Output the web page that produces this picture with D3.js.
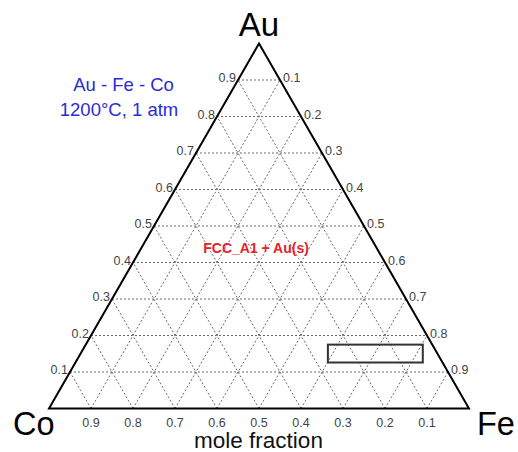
<!DOCTYPE html>
<html>
<head>
<meta charset="utf-8">
<script src="https://cdn.jsdelivr.net/npm/d3@7"></script>
<style>
  html, body { margin: 0; padding: 0; background: #fff; }
  svg { display: block; font-family: "Liberation Sans", Arial, sans-serif; }
</style>
</head>
<body>
<svg id="chart" width="518" height="452"></svg>
<script>
// ---- data ----
const components = ["Au", "Co", "Fe"];           // top, left, right vertices
const gridValues = [0.1, 0.2, 0.3, 0.4, 0.5, 0.6, 0.7, 0.8, 0.9];
const leftTickLabels = ["0.1", "0.2", "0.3", "0.4", "0.5", "0.6", "0.7", "0.8", "0.9"];   // Au fraction
const rightTickLabels = ["0.9", "0.8", "0.7", "0.6", "0.5", "0.4", "0.3", "0.2", "0.1"];  // Fe fraction (by Au level)
const bottomTickLabels = ["0.9", "0.8", "0.7", "0.6", "0.5", "0.4", "0.3", "0.2", "0.1"]; // Co fraction (by Fe level)
const titleLines = ["Au - Fe - Co", "1200\u00B0C, 1 atm"];
const phaseLabel = "FCC_A1 + Au(s)";
const phaseLabelPos = { Au: 0.426, Fe: 0.28 };   // composition where phase label sits
const boxFe = [0.664, 0.890]; // box extent (cartesian fraction along base)
const boxAu = [0.126, 0.175]; // box extent in Au fraction
const axisTitle = "mole fraction";

// ---- scales ----
const svg = d3.select("#chart");
const xs = d3.scaleLinear().domain([0, 1]).range([49, 469]);
const ys = d3.scaleLinear().domain([0, 1]).range([408.5, 43.5]);
const P = (au, fe) => [xs(fe + au / 2), ys(au)];

// ---- grid ----
const gridLines = [];
gridValues.forEach(t => {
  gridLines.push([P(t, 0), P(t, 1 - t)]);       // constant Au
  gridLines.push([P(0, t), P(1 - t, t)]);       // constant Fe
  gridLines.push([P(0, 1 - t), P(1 - t, 0)]);   // constant Co
});
svg.append("g").selectAll("line").data(gridLines).join("line")
  .attr("x1", d => d[0][0]).attr("y1", d => d[0][1])
  .attr("x2", d => d[1][0]).attr("y2", d => d[1][1])
  .attr("stroke", "#6a6a6a").attr("stroke-width", 1)
  .attr("stroke-dasharray", "2,2");

// ---- triangle ----
const tri = [P(1, 0), P(0, 0), P(0, 1)];
svg.append("path")
  .attr("d", d3.line()(tri) + "Z")
  .attr("fill", "none").attr("stroke", "#000").attr("stroke-width", 2)
  .attr("stroke-linejoin", "miter");

// ---- tick labels ----
const tickColor = "#444";
svg.append("g").selectAll("text").data(gridValues).join("text")
  .attr("x", t => P(t, 0)[0] - 2)
  .attr("y", t => P(t, 0)[1] + 2)
  .attr("text-anchor", "end").attr("font-size", 12.5).attr("fill", tickColor)
  .text((t, i) => leftTickLabels[i]);

svg.append("g").selectAll("text").data(gridValues).join("text")
  .attr("x", t => P(t, 1 - t)[0] + 3)
  .attr("y", t => P(t, 1 - t)[1] + 2)
  .attr("text-anchor", "start").attr("font-size", 12.5).attr("fill", tickColor)
  .text((t, i) => rightTickLabels[i]);

svg.append("g").selectAll("text").data(gridValues).join("text")
  .attr("x", t => P(0, t)[0])
  .attr("y", 426.5)
  .attr("text-anchor", "middle").attr("font-size", 12.5).attr("fill", tickColor)
  .text((t, i) => bottomTickLabels[i]);

// ---- vertex labels ----
svg.append("text").attr("x", P(1, 0)[0]).attr("y", 36)
  .attr("text-anchor", "middle").attr("font-size", 33).attr("fill", "#000").text(components[0]);
svg.append("text").attr("x", 13).attr("y", 435)
  .attr("text-anchor", "start").attr("font-size", 32.5).attr("fill", "#000").text(components[1]);
svg.append("text").attr("x", 477).attr("y", 435)
  .attr("text-anchor", "start").attr("font-size", 32.5).attr("fill", "#000").text(components[2]);

// ---- axis title ----
svg.append("text").attr("x", 258.5).attr("y", 448)
  .attr("text-anchor", "middle").attr("font-size", 22.5).attr("fill", "#111").text(axisTitle);

// ---- title ----
svg.append("text").attr("x", 123.5).attr("y", 91)
  .attr("text-anchor", "middle").attr("font-size", 18.5).attr("fill", "#2b2bd6").text(titleLines[0]);
svg.append("text").attr("x", 119).attr("y", 116)
  .attr("text-anchor", "middle").attr("font-size", 18.5).attr("fill", "#2b2bd6").text(titleLines[1]);

// ---- phase label ----
const pl = P(phaseLabelPos.Au, phaseLabelPos.Fe);
svg.append("text").attr("x", pl[0]).attr("y", pl[1])
  .attr("text-anchor", "middle").attr("font-size", 14).attr("font-weight", "bold")
  .attr("fill", "#e8202a").text(phaseLabel);

// ---- box ----
svg.append("rect")
  .attr("x", xs(boxFe[0])).attr("y", ys(boxAu[1]))
  .attr("width", xs(boxFe[1]) - xs(boxFe[0]))
  .attr("height", ys(boxAu[0]) - ys(boxAu[1]))
  .attr("fill", "none").attr("stroke", "#333").attr("stroke-width", 2);
</script>
</body>
</html>
